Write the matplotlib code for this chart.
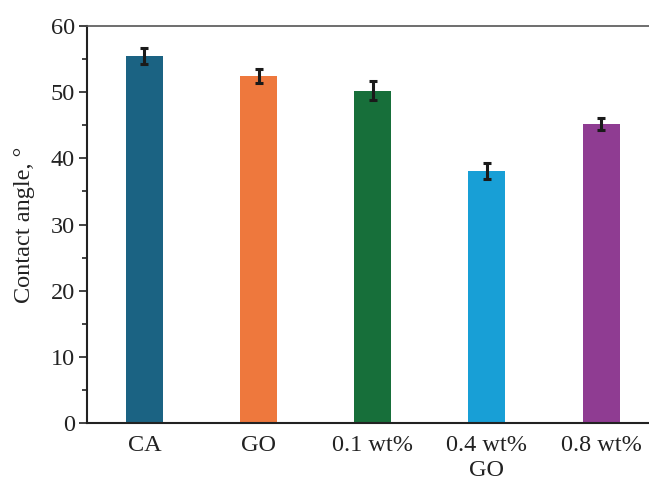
import numpy as np
import matplotlib
matplotlib.use("Agg")
import matplotlib.pyplot as plt
from matplotlib.ticker import MultipleLocator

samples = ["CA", "GO", "0.1 wt%", "0.4 wt%\nGO", "0.8 wt%"]
angle = [55.4, 52.4, 50.2, 38.1, 45.2]
err = [1.25, 1.0, 1.4, 1.25, 0.9]
colors = ["#1b6383", "#ee783d", "#176f3a", "#189fd6", "#8f3c92"]

plt.rcParams['font.family'] = ['Liberation Serif', 'DejaVu Serif']

fig = plt.figure(figsize=(6.49, 4.82), dpi=100)
ax = fig.add_axes([0.1336, 0.1214, 0.8664, 0.8253])

x = np.arange(len(samples))
ax.bar(x, angle, width=0.324, color=colors, zorder=2)
ax.errorbar(x, angle, yerr=err, fmt="none", ecolor="#1a1a1a",
            elinewidth=2.2, capsize=3.2, capthick=2.2, zorder=3)

ax.set_xlim(-0.506, 4.42)
ax.set_ylim(0, 60)
ax.yaxis.set_major_locator(MultipleLocator(10))
ax.yaxis.set_minor_locator(MultipleLocator(5))
ax.set_xticks(x)
ax.set_xticklabels(samples, fontsize=17.5, color="#222222", linespacing=1.3)
ax.tick_params(axis="x", length=0, pad=8)
ax.tick_params(axis="y", which="major", length=5.5, width=1.2, labelsize=17.5,
               colors="#222222", pad=3)
ax.tick_params(axis="y", which="minor", length=3.6, width=1.2, colors="#222222")
ax.set_ylabel("Contact angle, °", fontsize=17.5, color="#222222", labelpad=11)

for side in ["left", "bottom"]:
    ax.spines[side].set_linewidth(1.5)
    ax.spines[side].set_color("#222222")
ax.spines["top"].set_linewidth(1.2)
ax.spines["top"].set_color("#555555")
ax.spines["right"].set_visible(False)

fig.savefig("out.png", dpi=100)
